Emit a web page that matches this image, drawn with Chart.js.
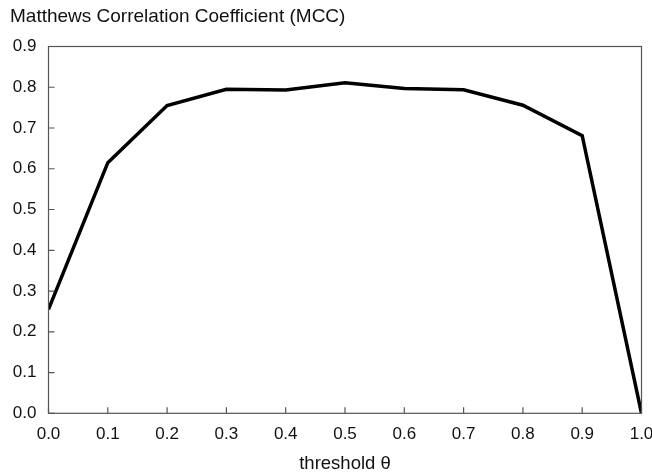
<!DOCTYPE html>
<html>
<head>
<meta charset="utf-8">
<script src="https://cdn.jsdelivr.net/npm/chart.js@4.4.1/dist/chart.umd.min.js"></script>
<style>
  html, body { margin: 0; padding: 0; background: #fff; }
  #wrap { width: 652px; height: 474px; }
</style>
</head>
<body>
<div id="wrap"><canvas id="mcc"></canvas></div>
<script>
// threshold sweep and the MCC measured at each step
var thresholds = [0.0, 0.1, 0.2, 0.3, 0.4, 0.5, 0.6, 0.7, 0.8, 0.9, 1.0]
var mccValues = [0.255, 0.615, 0.755, 0.795, 0.793, 0.811, 0.797, 0.794, 0.756, 0.681, 0.0]
var chartTitle = 'Matthews Correlation Coefficient (MCC)'
var xTitle = 'threshold \u03b8'

var fontFamily = '"Liberation Sans", Arial, Helvetica, sans-serif'
var frameColor = '#555555'

var points = []
for (var i = 0; i < thresholds.length; i++) {
  points.push({x: thresholds[i], y: mccValues[i]})
}

// box around the plot, inward tick marks and the heading
var framePlugin = {
  id: 'frame',
  afterDraw (chart) {
    var ctx = chart.ctx
    var area = chart.chartArea
    var xs = chart.scales.x
    var ys = chart.scales.y
    ctx.save()
    ctx.strokeStyle = frameColor
    ctx.lineWidth = 1.2
    ctx.strokeRect(area.left, area.top, area.right - area.left, area.bottom - area.top)
    ctx.beginPath()
    xs.ticks.forEach(function (t) {
      var px = xs.getPixelForValue(t.value)
      ctx.moveTo(px, area.bottom)
      ctx.lineTo(px, area.bottom - 6)
    })
    ys.ticks.forEach(function (t) {
      var py = ys.getPixelForValue(t.value)
      ctx.moveTo(area.left, py)
      ctx.lineTo(area.left + 6, py)
    })
    ctx.stroke()
    ctx.fillStyle = '#111'
    ctx.font = '19px ' + fontFamily
    ctx.textBaseline = 'middle'
    ctx.textAlign = 'left'
    ctx.fillText(chartTitle, 10, 17)
    ctx.restore()
  }
}

var ctx = document.getElementById('mcc').getContext('2d')
var chart = new Chart(ctx, {
  type: 'line',
  data: {
    datasets: [{
      data: points,
      borderColor: '#000',
      borderWidth: 3.5,
      pointRadius: 0,
      tension: 0,
      fill: false
    }]
  },
  options: {
    responsive: true,
    maintainAspectRatio: false,
    animation: false,
    layout: {padding: {top: 46.5, right: 10.5, bottom: 0, left: 0}},
    plugins: {legend: {display: false}, tooltip: {enabled: false}},
    scales: {
      x: {
        type: 'linear',
        min: 0,
        max: 1,
        grid: {display: false, drawTicks: false},
        border: {display: false},
        ticks: {
          stepSize: 0.1,
          padding: 11,
          color: '#111',
          font: {family: fontFamily, size: 17},
          maxRotation: 0,
          autoSkip: false,
          callback: function (v) { return v.toFixed(1) }
        },
        title: {
          display: true,
          text: xTitle,
          color: '#111',
          font: {family: fontFamily, size: 18.5},
          padding: {top: 0, bottom: -1}
        },
        afterFit: function (s) {
          s.height = 60.7
          s.paddingLeft = 0
          s.paddingRight = 0
        }
      },
      y: {
        min: 0,
        max: 0.9,
        grid: {display: false, drawTicks: false},
        border: {display: false},
        ticks: {
          stepSize: 0.1,
          padding: 12,
          color: '#111',
          font: {family: fontFamily, size: 17},
          callback: function (v) { return v.toFixed(1) }
        },
        afterFit: function (s) {
          s.width = 48.5
          s.paddingTop = 0
          s.paddingBottom = 0
        }
      }
    }
  },
  plugins: [framePlugin]
})
</script>
</body>
</html>
